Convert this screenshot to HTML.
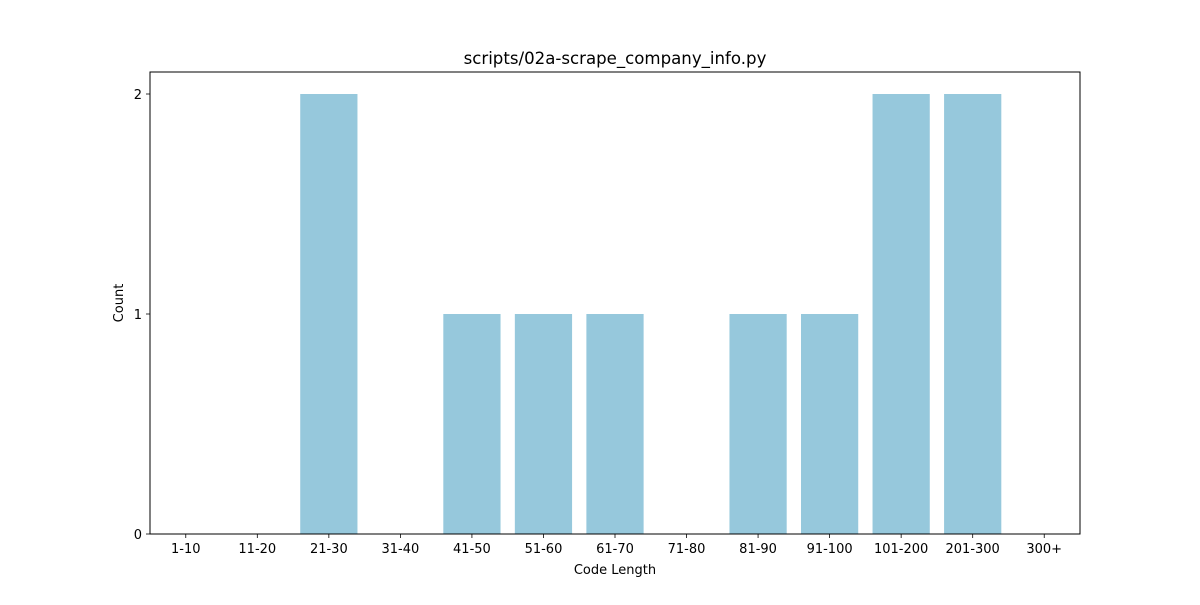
<!DOCTYPE html>
<html><head><meta charset="utf-8"><style>
body{margin:0;background:#fff;}
svg text{font-family:"DejaVu Sans","Liberation Sans",sans-serif;fill:#000;}
</style></head><body>
<svg id="chart" width="1200" height="600" xmlns="http://www.w3.org/2000/svg"></svg>
<script>
const categories=["1-10","11-20","21-30","31-40","41-50","51-60","61-70","71-80","81-90","91-100","101-200","201-300","300+"];
const counts=[0,0,2,0,1,1,1,0,1,1,2,2,0];
const yTicks=[0,1,2];
const L=150,R=1080,T=72,B=534;
const xMin=-0.5,xMax=12.5,yMin=0,yMax=2.1;
const xs=v=>L+(v-xMin)/(xMax-xMin)*(R-L);
const ys=v=>B-(v-yMin)/(yMax-yMin)*(B-T);
const svg=document.getElementById('chart');
const NS="http://www.w3.org/2000/svg";
function mk(tag,attrs,text){const e=document.createElementNS(NS,tag);for(const k in attrs)e.setAttribute(k,attrs[k]);if(text!==undefined)e.textContent=text;svg.appendChild(e);return e;}
categories.forEach((c,i)=>{
  const x0=xs(i-0.4),x1=xs(i+0.4);
  const b=mk('rect',{x:x0,y:ys(counts[i]),width:x1-x0,height:ys(0)-ys(counts[i]),fill:'#96c8dc'});
  
  
  const t=mk('line',{x1:xs(i),x2:xs(i),y1:B,y2:B+4,stroke:'#000','stroke-width':0.8});
  
  
  const l=mk('text',{x:xs(i),y:B+19,'text-anchor':'middle','font-size':13},c);
  
  
});
yTicks.forEach(v=>{
  const t=mk('line',{x1:L-4,x2:L,y1:ys(v),y2:ys(v),stroke:'#000','stroke-width':0.8});
  
  
  const l=mk('text',{x:L-8,y:ys(v)+5,'text-anchor':'end','font-size':13},String(v));
  
  
});
const f=mk('rect',{x:L,y:T,width:R-L,height:B-T,fill:'none',stroke:'#000','stroke-width':1,'shape-rendering':'crispEdges'});


const ti=mk('text',{x:(L+R)/2,y:64,'text-anchor':'middle','font-size':16.6},'scripts/02a-scrape_company_info.py');


const xt=mk('text',{x:(L+R)/2,y:574,'text-anchor':'middle','font-size':13},'Code Length');


const yt=mk('text',{x:123,y:(T+B)/2,'text-anchor':'middle','font-size':13,transform:'rotate(-90 123 '+((T+B)/2)+')'},'Count');


</script>
</body></html>
